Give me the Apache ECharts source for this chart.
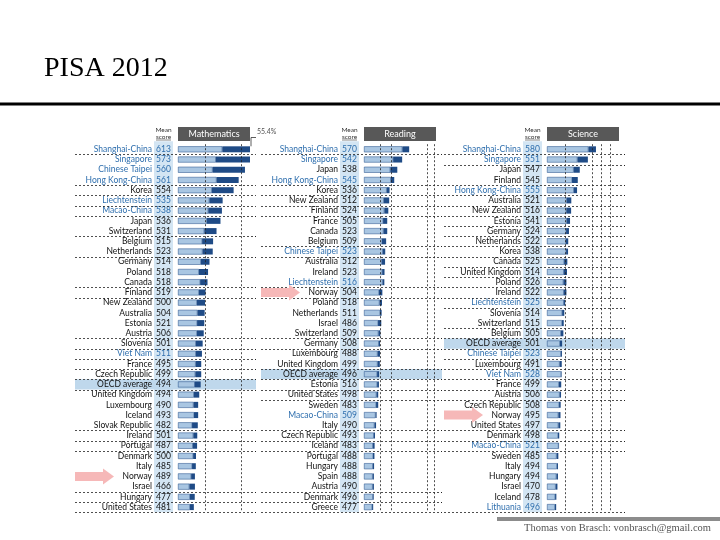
<!DOCTYPE html>
<html><head><meta charset="utf-8">
<script src="https://cdn.jsdelivr.net/npm/echarts@6/dist/echarts.min.js"></script>
<style>html,body{margin:0;padding:0;background:#fff}#c{width:720px;height:540px}</style>
</head><body><div id="c"></div>
<script>
// ---------- DATA ----------
const mathCountries = ['Shanghai-China','Singapore','Chinese Taipei','Hong Kong-China','Korea','Liechtenstein','Macao-China','Japan','Switzerland','Belgium','Netherlands','Germany','Poland','Canada','Finland','New Zealand','Australia','Estonia','Austria','Slovenia','Viet Nam','France','Czech Republic','OECD average','United Kingdom','Luxembourg','Iceland','Slovak Republic','Ireland','Portugal','Denmark','Italy','Norway','Israel','Hungary','United States'];
const mathScores = [613,573,560,561,554,535,538,536,531,515,523,514,518,518,519,500,504,521,506,501,511,495,499,494,494,490,493,482,501,487,500,485,489,466,477,481];
const mathLevel5 = [24.6,21.0,19.2,21.4,18.8,17.4,16.8,16.0,14.6,13.4,13.6,12.7,11.6,12.3,11.6,10.5,10.8,10.6,10.5,9.9,9.9,9.8,9.6,9.3,8.8,8.6,8.9,7.8,8.5,8.2,8.4,7.8,7.3,6.3,6.6,6.6];
const mathLevel6 = [30.8,19.0,18.0,12.3,12.1,7.4,7.6,7.6,6.8,6.1,5.7,4.8,5.1,4.1,3.7,4.5,4.0,4.0,3.8,3.8,3.4,3.1,3.3,3.3,3.0,2.6,2.3,3.2,2.2,2.4,1.6,2.1,2.1,3.1,2.7,2.2];

const readCountries = ['Shanghai-China','Singapore','Japan','Hong Kong-China','Korea','New Zealand','Finland','France','Canada','Belgium','Chinese Taipei','Australia','Ireland','Liechtenstein','Norway','Poland','Netherlands','Israel','Switzerland','Germany','Luxembourg','United Kingdom','OECD average','Estonia','United States','Sweden','Macao-China','Italy','Czech Republic','Iceland','Portugal','Hungary','Spain','Austria','Denmark','Greece'];
const readScores = [570,542,538,545,536,512,524,505,523,509,523,512,523,516,504,518,511,486,509,508,488,499,496,516,498,483,509,490,493,483,488,488,488,490,496,477];
const readLevel5 = [21.3,16.2,14.6,14.9,12.6,11.0,11.3,10.6,10.8,10.0,10.4,9.8,10.1,10.3,8.3,8.6,8.9,7.8,8.0,8.2,7.5,7.5,7.3,7.3,6.9,6.7,6.4,5.8,5.4,4.9,5.0,4.9,4.8,4.8,4.9,4.5];
const readLevel6 = [3.8,5.0,3.9,1.9,1.6,3.0,2.2,2.3,2.1,2.3,1.4,1.9,1.3,1.0,1.9,1.4,0.9,1.8,1.1,0.7,1.4,1.3,1.1,1.0,1.0,1.2,0.6,0.9,0.7,1.0,0.8,0.7,0.7,0.7,0.5,0.6];

const sciCountries = ['Shanghai-China','Singapore','Japan','Finland','Hong Kong-China','Australia','New Zealand','Estonia','Germany','Netherlands','Korea','Canada','United Kingdom','Poland','Ireland','Liechtenstein','Slovenia','Switzerland','Belgium','OECD average','Chinese Taipei','Luxembourg','Viet Nam','France','Austria','Czech Republic','Norway','United States','Denmark','Macao-China','Sweden','Italy','Hungary','Israel','Iceland','Lithuania'];
const sciScores = [580,551,547,545,555,521,516,541,524,522,538,525,514,526,522,525,514,515,505,501,523,491,528,499,506,508,495,497,498,521,485,494,494,470,478,496];
const sciLevel5 = [23.0,16.9,14.8,13.9,14.9,10.9,10.7,10.9,10.6,10.5,10.6,9.5,9.3,9.1,9.3,9.3,8.4,8.3,7.7,7.2,7.7,7.0,7.8,6.6,7.0,6.7,6.3,6.3,6.1,6.4,5.3,5.5,5.2,4.8,4.5,4.4];
const sciLevel6 = [4.2,5.8,3.4,3.2,1.8,2.6,2.7,1.9,1.6,1.3,1.1,1.8,1.8,1.7,1.5,0.8,1.2,1.0,1.4,1.2,0.6,1.2,0.3,1.3,0.8,0.9,1.2,1.1,0.7,0.3,1.0,0.6,0.9,1.0,0.7,0.7];

const partnerNames = ['Shanghai-China','Singapore','Chinese Taipei','Hong Kong-China','Liechtenstein','Macao-China','Viet Nam','Lithuania'];
const panelTitles = ['Mathematics','Reading','Science'];
const guideLines = [[15,35],[9,15,35,39],[10,25,30,35]];
const separatorsAfter = [
  [0,3,4,5,6,8,10,13,14,18,19,20,21,22,23,27,28,29,33,34,35],
  [0,3,4,5,6,9,10,13,14,18,19,21,22,23,24,27,28,29,33,34,35],
  [0,1,3,4,5,6,7,8,9,10,11,12,13,14,15,17,18,19,20,21,22,23,24,27,28,29,35]
];
const arrowCountry = 'Norway';
// ---------- END DATA ----------

const panels = [
  {countries: mathCountries, scores: mathScores, l5: mathLevel5, l6: mathLevel6},
  {countries: readCountries, scores: readScores, l5: readLevel5, l6: readLevel6},
  {countries: sciCountries, scores: sciScores, l5: sciLevel5, l6: sciLevel6}
];
const gridLefts = [178, 364, 547];
const GW = 72, GT = 144.2, GH = 368;
const BLUE = '#2f6fae', LIGHT = '#a9c6e2', DARK = '#1f4b86';

const chart = echarts.init(document.getElementById('c'), null, {renderer: 'canvas'});

const grids = [], xAxes = [], yAxes = [], series = [];
panels.forEach((p, k) => {
  grids.push({left: gridLefts[k], top: GT, width: GW, height: GH});
  xAxes.push({type: 'value', gridIndex: k, min: 0, max: 40, show: false, splitLine: {show: false}});
  yAxes.push({
    type: 'category', gridIndex: k, data: p.countries, inverse: true,
    axisLine: {show: false}, axisTick: {show: false}, splitLine: {show: false},
    axisLabel: {
      interval: 0, margin: 5,
      formatter: (v, i) => {
        const b = partnerNames.includes(v);
        return '{' + (b ? 'nb' : 'nk') + '|' + v + '}{' + (b ? 'sb' : 'sk') + '|' + p.scores[i] + '}';
      },
      rich: {
        nk: {color: '#111', fontSize: 8.5, fontFamily: 'Lato', padding: [0, 2, 0, 0]},
        nb: {color: BLUE, fontSize: 8.5, fontFamily: 'Lato', padding: [0, 2, 0, 0]},
        sk: {color: '#111', fontSize: 8.5, fontFamily: 'Lato', width: 19, align: 'center'},
        sb: {color: BLUE, fontSize: 8.5, fontFamily: 'Lato', width: 19, align: 'center'}
      }
    }
  });
  series.push({
    type: 'bar', xAxisIndex: k, yAxisIndex: k, stack: 's' + k, data: p.l5, barWidth: 6,
    itemStyle: {color: LIGHT, borderColor: DARK, borderWidth: 0.5}, silent: true, animation: false
  });
  series.push({
    type: 'bar', xAxisIndex: k, yAxisIndex: k, stack: 's' + k, data: p.l6, barWidth: 6,
    itemStyle: {color: DARK}, silent: true, animation: false,
    markLine: {
      silent: true, symbol: 'none', label: {show: false}, animation: false,
      lineStyle: {type: [2, 2], color: '#222', width: 0.8},
      data: guideLines[k].map(v => ({xAxis: v}))
    }
  });
});

chart.setOption({
  animation: false,
  backgroundColor: '#fff',
  grid: grids, xAxis: xAxes, yAxis: yAxes, series: series
});

// ---------- decorations positioned through the axes ----------
const g = [];
g.push({type: 'text', left: 44, top: 55, z: 10, style: {text: 'PISA 2012', font: '28px "Liberation Serif"', fill: '#000'}});
g.push({type: 'rect', shape: {x: 0, y: 102.5, width: 720, height: 3}, style: {fill: '#000'}, z: 10});
g.push({type: 'rect', shape: {x: 497, y: 517, width: 223, height: 4}, style: {fill: '#8c8c8c'}, z: 10});
g.push({type: 'text', x: 524, y: 523, z: 10, style: {text: 'Thomas von Brasch: vonbrasch@gmail.com', font: '10.5px "Liberation Serif"', fill: '#555'}});

panels.forEach((p, k) => {
  const x0 = chart.convertToPixel({xAxisIndex: k}, 0);
  const x40 = chart.convertToPixel({xAxisIndex: k}, 40);
  const rowY = i => chart.convertToPixel({yAxisIndex: k}, p.countries[i]);
  const step = rowY(1) - rowY(0);
  const bandL = x0 - 103, bandR = x40 + 6;
  // score column
  g.push({type: 'rect', z: -5, shape: {x: x0 - 24, y: GT - 3, width: 19, height: GH + 3}, style: {fill: '#d3e5f3'}});
  // OECD band
  const oi = p.countries.indexOf('OECD average');
  g.push({type: 'rect', z: -4, shape: {x: bandL, y: rowY(oi) - step / 2, width: bandR - bandL, height: step}, style: {fill: '#bfd8ec'}});
  // separators
  separatorsAfter[k].forEach(i => {
    const y = Math.round(rowY(i) + step / 2) + 0.5;
    g.push({type: 'line', z: 1, shape: {x1: bandL, y1: y, x2: bandR, y2: y}, style: {stroke: '#222', lineWidth: 0.8, lineDash: [2, 2]}});
  });
  // header
  g.push({type: 'rect', z: 5, shape: {x: x0, y: 127, width: x40 - x0, height: 14}, style: {fill: '#585858'}});
  g.push({type: 'text', z: 6, x: (x0 + x40) / 2, y: 134, style: {text: panelTitles[k], font: '9px Lato', fill: '#fff', align: 'center', verticalAlign: 'middle'}});
  g.push({type: 'text', z: 6, x: x0 - 14.5, y: 130, style: {text: 'Mean', font: '6.5px Lato', fill: '#333', align: 'center', verticalAlign: 'middle'}});
  g.push({type: 'text', z: 6, x: x0 - 14.5, y: 136.5, style: {text: 'score', font: '6.5px Lato', fill: '#333', align: 'center', verticalAlign: 'middle'}});
  g.push({type: 'line', z: 6, shape: {x1: x0 - 22, y1: 140, x2: x0 - 7, y2: 140}, style: {stroke: '#333', lineWidth: 0.6}});
  // arrow
  const ay = rowY(p.countries.indexOf(arrowCountry));
  const ax = x0 - 103, tip = x0 - 64;
  g.push({type: 'polygon', z: 2, shape: {points: [[ax, ay - 4.5], [tip - 11, ay - 4.5], [tip - 11, ay - 8], [tip, ay], [tip - 11, ay + 8], [tip - 11, ay + 4.5], [ax, ay + 4.5]]}, style: {fill: '#f6b8b8'}});
  // callout for values beyond the scale
  p.l5.forEach((v, i) => {
    const tot = v + p.l6[i];
    if (tot > 40) {
      const y = rowY(i);
      g.push({type: 'polyline', z: 6, shape: {points: [[x40 + 1, y - 3], [x40 + 1, 137.5], [x40 + 6, 137.5]]}, style: {stroke: '#333', lineWidth: 0.8, fill: null}});
      g.push({type: 'text', z: 6, x: x40 + 7, y: 132, style: {text: tot.toFixed(1) + '%', font: '7px Lato', fill: '#555', verticalAlign: 'middle'}});
    }
  });
});

chart.setOption({graphic: {elements: g}});
</script>
</body></html>
